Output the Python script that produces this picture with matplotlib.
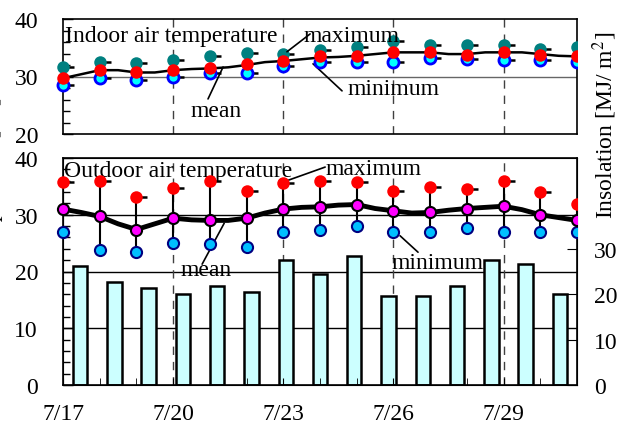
import numpy as np
import matplotlib.pyplot as plt
from matplotlib.transforms import Bbox, TransformedBbox, blended_transform_factory

plt.rcParams['font.family'] = ['Liberation Serif', 'DejaVu Serif']
plt.rcParams['mathtext.fontset'] = 'stix'
plt.rcParams['font.size'] = 17

days = np.arange(15)                      # 7/17 .. 7/31
half_days = np.arange(29) * 0.5
tick_days = [0, 3, 6, 9, 12]
tick_labels = ['7/17', '7/20', '7/23', '7/26', '7/29']

# indoor air temperature (daily)
in_max = [31.6, 32.6, 32.3, 32.9, 33.6, 34.1, 34.0, 34.6, 35.1, 36.1, 35.4, 35.4, 35.5, 34.7, 35.1]
in_mean = [29.7, 31.1, 30.8, 31.1, 31.5, 32.2, 32.7, 33.6, 33.6, 34.3, 34.2, 33.8, 34.2, 33.8, 33.5]
in_min = [28.5, 29.7, 29.4, 29.9, 30.6, 30.6, 31.9, 32.5, 32.5, 32.6, 33.3, 33.0, 32.9, 32.9, 32.5]
# indoor running mean (half-day)
in_line = [29.7, 30.4, 31.1, 31.1, 30.7, 30.7, 31.1, 31.3, 31.4, 31.6, 32.0, 32.5, 32.7, 33.0, 33.3,
           33.4, 33.6, 33.9, 34.2, 34.2, 34.2, 33.9, 33.9, 34.2, 34.2, 34.2, 33.9, 33.6, 33.5]

# outdoor air temperature (daily)
out_max = [35.7, 36.0, 33.2, 34.8, 36.0, 34.2, 35.6, 36.0, 35.7, 34.2, 34.9, 34.5, 36.0, 34.0, 31.9]
out_mean = [31.0, 29.7, 27.4, 29.4, 29.0, 29.4, 31.1, 31.4, 31.8, 30.7, 30.4, 31.1, 31.5, 30.0, 29.1]
out_min = [26.9, 23.8, 23.5, 25.1, 24.8, 24.4, 26.9, 27.3, 28.0, 26.9, 26.9, 27.6, 26.9, 27.0, 26.9]
out_line = [31.0, 30.4, 29.7, 28.4, 27.4, 28.4, 29.4, 29.1, 29.0, 29.0, 29.4, 30.3, 31.0, 31.3, 31.4,
            31.7, 31.8, 31.1, 30.7, 30.3, 30.4, 30.8, 31.1, 31.3, 31.5, 30.9, 30.0, 29.5, 29.0]

# daily insolation [MJ/m2]
insolation = [26.3, 22.7, 21.4, 20.1, 21.8, 20.5, 27.6, 24.4, 28.4, 19.6, 19.6, 21.8, 27.5, 26.7, 20.1]

W, H = 628, 435
fig = plt.figure(figsize=(W / 100, H / 100), dpi=100)
L, R = 63 / W, 577 / W
ax1 = fig.add_axes([L, 1 - 135 / H, R - L, 115 / H])
axi = fig.add_axes([L, 1 - 386 / H, R - L, 227 / H])
ax2 = fig.add_axes([L, 1 - 386 / H, R - L, 227 / H])
ax2.patch.set_visible(False)


def open_left(artists, ax):
    # markers may hang over the left spine, but are cut at the right one
    box = TransformedBbox(Bbox([[-0.1, -0.1], [1.0, 1.1]]), ax.transAxes)
    for a in artists:
        a.set_clip_path(None)
        a.set_clip_box(box)


def style_temp_axis(ax, lo, hi):
    ax.set_xlim(0, 14)
    ax.set_ylim(lo, hi)
    ax.set_yticks(np.arange(lo, hi + 1, 10))
    ax.set_yticks(np.arange(lo, hi + 1, 2), minor=True)
    ax.tick_params(axis='y', which='both', direction='in', pad=18)
    ax.tick_params(axis='y', which='major', length=7, width=1)
    ax.tick_params(axis='y', which='minor', length=5, width=1)
    for s in ax.spines.values():
        s.set_linewidth(1.2)


# ---- indoor panel
style_temp_axis(ax1, 20, 40)
ax1.set_xticks([])
ax1.axhline(30, color='0.4', lw=1, zorder=1)
for d in tick_days[1:]:
    ax1.axvline(d, color='0.25', lw=1, ls=(0, (6, 5)), zorder=1)
ax1.plot(half_days, in_line, color='k', lw=1.8, zorder=2)
dash1 = ax1.hlines(in_max, days, days + 0.3, color='k', lw=1.8, zorder=2)
dash2 = ax1.hlines(in_min, days, days + 0.3, color='k', lw=1.8, zorder=2)
m1, = ax1.plot(days, in_max, 'o', color='#008080', ms=9, mec='none', zorder=3)
m2, = ax1.plot(days, in_min, 'o', color='cyan', ms=8, mec='blue', mew=2, zorder=4)
m3, = ax1.plot(days, in_mean, 'o', color='red', ms=9, mec='none', zorder=5)
open_left([m1, m2, m3], ax1)

ax1.text(0.05, 36.2, 'Indoor air temperature', ha='left', va='baseline')
ax1.annotate('', xy=(6.1, 34.3), xytext=(6.73, 37.4), arrowprops=dict(arrowstyle='-', lw=1.2, shrinkA=0, shrinkB=0))
ax1.text(6.54, 36.2, 'maximum', ha='left', va='baseline')
ax1.annotate('', xy=(4.36, 31.65), xytext=(3.95, 26.1), arrowprops=dict(arrowstyle='-', lw=1.2, shrinkA=0, shrinkB=0))
ax1.text(4.17, 23.1, 'mean', ha='center', va='baseline')
ax1.annotate('', xy=(6.81, 32.2), xytext=(7.6, 27.5), arrowprops=dict(arrowstyle='-', lw=1.2, shrinkA=0, shrinkB=0))
ax1.text(7.76, 27.0, 'minimum', ha='left', va='baseline')

# ---- insolation bars (own category axis, drawn behind)
axi.set_xlim(-0.5, 14.5)
axi.set_ylim(0, 50)
axi.bar(days, insolation, width=0.42, color='#ccffff', edgecolor='k', lw=1.8, zorder=3)
axi.set_xticks([])
axi.yaxis.tick_right()
axi.set_yticks([0, 10, 20, 30])
axi.tick_params(axis='y', direction='in', length=7, pad=12)
axi.set_zorder(0)
ax2.set_zorder(1)
hy = blended_transform_factory(axi.transAxes, ax2.transData)
vx = blended_transform_factory(ax2.transData, axi.transAxes)
for t in [10, 20, 30]:
    axi.plot([0, 1], [t, t], transform=hy, color='k', lw=1, zorder=1)
for d in tick_days[1:]:
    axi.plot([d, d], [0, 1], transform=vx, color='0.25', lw=1, ls=(0, (6, 5)), zorder=1)

# ---- outdoor panel
style_temp_axis(ax2, 0, 40)
ax2.set_xticks(tick_days)
ax2.set_xticklabels(tick_labels)
ax2.set_xticks(days, minor=True)
ax2.tick_params(axis='x', which='both', direction='in', length=5, pad=13)
ax2.vlines(days, out_min, out_max, color='k', lw=1.5, zorder=2)
ax2.plot(half_days, out_line, color='k', lw=3.5, zorder=3)
ax2.hlines(out_max, days, days + 0.3, color='k', lw=1.8, zorder=2)
n1, = ax2.plot(days, out_max, 'o', color='red', ms=9, mec='none', zorder=4)
n2, = ax2.plot(days, out_min, 'o', color='#00bfff', ms=8, mec='navy', mew=1.5, zorder=4)
n3, = ax2.plot(days, out_mean, 'o', color='magenta', ms=8, mec='k', mew=1.5, zorder=5)
open_left([n1, n2, n3], ax2)

ax2.text(0.03, 36.9, 'Outdoor air temperature', ha='left', va='baseline')
ax2.annotate('', xy=(5.97, 35.7), xytext=(7.14, 38.4), arrowprops=dict(arrowstyle='-', lw=1.2, shrinkA=0, shrinkB=0))
ax2.text(7.14, 37.2, 'maximum', ha='left', va='baseline')
ax2.annotate('', xy=(4.39, 28.5), xytext=(3.79, 21.3), arrowprops=dict(arrowstyle='-', lw=1.2, shrinkA=0, shrinkB=0))
ax2.text(3.91, 19.3, 'mean', ha='center', va='baseline')
ax2.annotate('', xy=(9.18, 26.3), xytext=(9.67, 23.4), arrowprops=dict(arrowstyle='-', lw=1.2, shrinkA=0, shrinkB=0))
ax2.text(8.95, 20.7, 'minimum', ha='left', va='baseline')

fig.text(605 / W, 1 - 125 / H, r'Insolation [MJ/ m$^{2}$]', rotation=90, ha='center', va='center')
fig.text(3 / W, 0.55, 'Air temperature [\u00b0C]', rotation=90, ha='right', va='center')

fig.savefig('out.png', dpi=100)
